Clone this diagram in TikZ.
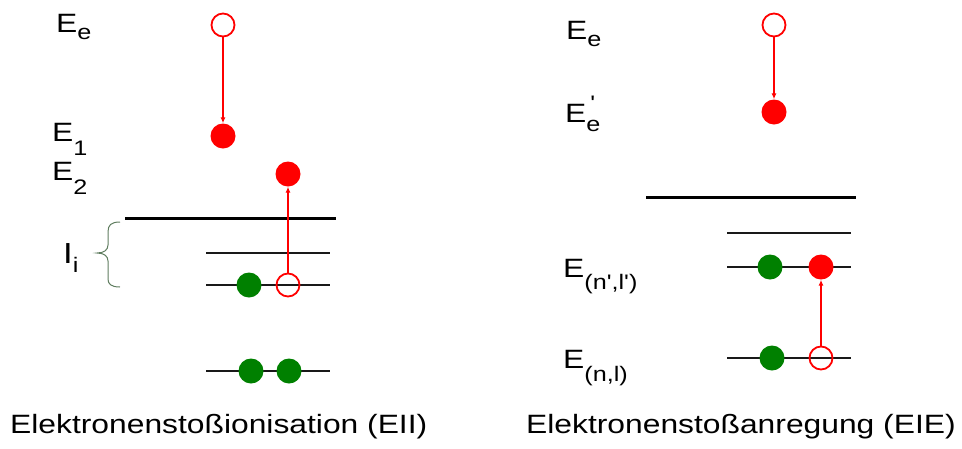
\documentclass[tikz,border=0pt]{standalone}
\usepackage{fontspec}
\setmainfont[FakeStretch=1.2,Ligatures=TeXOff]{Liberation Sans}
\usetikzlibrary{arrows.meta}
\definecolor{ered}{RGB}{255,0,0}
\definecolor{egreen}{RGB}{0,128,0}
\definecolor{bracecol}{RGB}{95,125,95}
\newcommand\subl[2]{\raisebox{-#1pt}{\fontsize{21}{21}\selectfont #2}}
\begin{document}
\begin{tikzpicture}[x=1pt,y=-1pt,
  lbl/.style={anchor=base west,inner sep=0pt,font=\fontsize{26.5}{28}\selectfont},
  captiontext/.style={anchor=base west,inner sep=0pt,font=\fontsize{26.5}{28}\selectfont},
  openel/.style={circle,draw=ered,line width=1.8pt,minimum size=23pt,inner sep=0pt},
  fullel/.style={circle,fill=ered,minimum size=25pt,inner sep=0pt},
  greenel/.style={circle,fill=egreen,minimum size=25pt,inner sep=0pt},
  thicklevel/.style={line width=3pt,black},
  thinlevel/.style={line width=2pt,black!90},
  trans/.style={ered,line width=1.3pt,-{Latex[length=6pt,width=5pt]}}]
\useasboundingbox (0,0) rectangle (962,448);

% ---------- left panel: levels
\coordinate (L0a) at (125,218); \coordinate (L0b) at (336,218);
\coordinate (L1a) at (206,253); \coordinate (L1b) at (330,253);
\coordinate (L2a) at (206,285); \coordinate (L2b) at (330,285);
\coordinate (L3a) at (206,371); \coordinate (L3b) at (330,371);
\draw[thicklevel] (L0a) -- (L0b);
\draw[thinlevel] (L1a) -- (L1b);
\draw[thinlevel] (L2a) -- (L2b);
\draw[thinlevel] (L3a) -- (L3b);

% electrons
\node[openel] (eo1) at (223,25) {};
\node[fullel] (ef1) at (223,136) {};
\node[fullel] (ef2) at (288,174) {};
\node[greenel] (g1) at (249,285) {};
\node[openel] (eo2) at (288,285) {};
\node[greenel] (g2) at (251,371) {};
\node[greenel] (g3) at (289,371) {};
\draw[trans] (eo1) -- (ef1);
\draw[trans] (eo2) -- (ef2);

% labels
\node[lbl] (lEe) at (56,32) {E\subl{7}{e}};
\node[lbl] (lE1) at (52,141) {E\subl{14}{1}};
\node[lbl] (lE2) at (52,180) {E\subl{14}{2}};
\node[lbl,font=\fontsize{29}{30}\selectfont] (lIi) at (63,263) {I\subl{9}{i}};
\draw[bracecol,line width=1pt] (120,222) .. controls (111,222) and (108,225) .. (108,232)
  -- (108,245) .. controls (108,250) and (104,253) .. (97,253)
  .. controls (104,253) and (108,256) .. (108,261)
  -- (108,279) .. controls (108,284) and (111,287) .. (120,287);

% ---------- right panel: levels
\coordinate (R0a) at (646,197); \coordinate (R0b) at (856,197);
\coordinate (R1a) at (727,233); \coordinate (R1b) at (851,233);
\coordinate (R2a) at (727,267); \coordinate (R2b) at (851,267);
\coordinate (R3a) at (727,358); \coordinate (R3b) at (851,358);
\draw[thicklevel] (R0a) -- (R0b);
\draw[thinlevel] (R1a) -- (R1b);
\draw[thinlevel] (R2a) -- (R2b);
\draw[thinlevel] (R3a) -- (R3b);

\node[openel] (ro1) at (774,25) {};
\node[fullel] (rf1) at (774,112) {};
\node[greenel] (rg1) at (770,267) {};
\node[fullel] (rf2) at (821,267) {};
\node[greenel] (rg2) at (772,358) {};
\node[openel] (ro2) at (821,358) {};
\draw[trans] (ro1) -- (rf1);
\draw[trans] (ro2) -- (rf2);

\node[lbl] (rEe) at (566,39) {E\subl{7}{e}};
\node[lbl] (rEe2) at (565,122) {E\rlap{\hspace{4pt}\raisebox{12pt}{\fontsize{21}{21}\selectfont '}}\subl{9}{e}};
\node[lbl] (rEnl2) at (563,277) {E\subl{12}{(n',l')}};
\node[lbl] (rEnl) at (563,368) {E\subl{13}{(n,l)}};

% captions
\node[captiontext] (capL) at (10,433) {Elektronenstoßionisation (EII)};
\node[captiontext] (capR) at (526,433) {Elektronenstoßanregung (EIE)};
\end{tikzpicture}
\end{document}
